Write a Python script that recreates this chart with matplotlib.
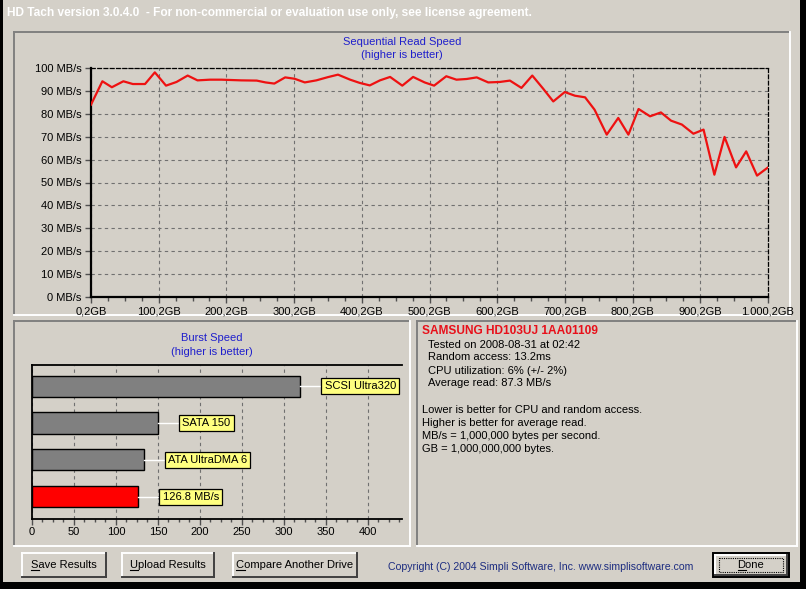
import matplotlib
matplotlib.use("Agg")
import numpy as np
from matplotlib import pyplot as plt
from matplotlib.patches import Rectangle
from matplotlib.colors import LinearSegmentedColormap

plt.rcParams['font.family'] = ['Liberation Sans', 'DejaVu Sans']
plt.rcParams['font.size'] = 8

W, H = 806, 589
FACE = '#d4d0c8'

# sequential read, GB position vs MB/s
read_gb = [0.2, 17, 31, 48, 62, 80, 94.5, 111, 126.5, 143, 157.5, 176, 193, 222,
           245, 258, 271, 287, 301, 316, 333, 350, 365, 383, 397, 412, 427, 442,
           460, 476, 493, 507, 525, 540, 555, 570, 587, 604, 619, 636, 652, 668,
           683, 700, 715, 730, 744, 762, 779, 794, 809, 826, 842, 857, 873, 890,
           905, 921, 936, 953, 968, 984, 1000.2]
read_mbs = [84.0, 94.2, 91.6, 94.2, 93.0, 93.0, 98.1, 92.3, 93.9, 96.7, 94.6, 94.9,
            94.9, 94.6, 94.5, 93.7, 93.2, 95.9, 95.3, 93.7, 94.6, 96.0, 97.1, 94.9,
            93.5, 92.4, 94.6, 96.1, 92.3, 96.1, 93.7, 92.3, 96.4, 94.9, 95.2, 95.9,
            93.7, 93.9, 94.5, 91.3, 96.7, 91.0, 85.4, 89.5, 87.9, 87.2, 81.8, 70.9,
            78.2, 70.9, 82.1, 78.9, 80.6, 77.0, 75.3, 71.3, 73.1, 53.4, 69.9, 56.6,
            63.6, 53.0, 56.6]
read_yticks = [0, 10, 20, 30, 40, 50, 60, 70, 80, 90, 100]
read_xticks = [0.2, 100.2, 200.2, 300.2, 400.2, 500.2, 600.2, 700.2, 800.2, 900.2, 1000.2]
read_xlabels = ["0,2GB", "100,2GB", "200,2GB", "300,2GB", "400,2GB", "500,2GB",
                "600,2GB", "700,2GB", "800,2GB", "900,2GB", "1.000,2GB"]

# burst speed
burst_names = ["SCSI Ultra320", "SATA 150", "ATA UltraDMA 6", "126.8 MB/s"]
burst_values = [320, 150, 133, 126.8]
burst_colors = ["#808080", "#808080", "#808080", "#ff0000"]
burst_xticks = [0, 50, 100, 150, 200, 250, 300, 350, 400]

info_title = "SAMSUNG HD103UJ 1AA01109"
info_lines = ["Tested on 2008-08-31 at 02:42", "Random access: 13.2ms",
              "CPU utilization: 6% (+/- 2%)", "Average read: 87.3 MB/s"]
note_lines = ["Lower is better for CPU and random access.",
              "Higher is better for average read.",
              "MB/s = 1,000,000 bytes per second.",
              "GB = 1,000,000,000 bytes."]
buttons = [("Save Results", 22, 106), ("Upload Results", 122, 214),
           ("Compare Another Drive", 233, 357)]


def px_axes(left, top, right, bottom):
    return fig.add_axes([left / W, 1 - bottom / H, (right - left) / W, (bottom - top) / H])


def sunken(x0, y0, x1, y1):
    bg.plot([x0, x1], [y0, y0], color='#808080', lw=1.4)
    bg.plot([x0, x0], [y0, y1], color='#808080', lw=1.4)
    bg.plot([x0, x1], [y1, y1], color='white', lw=1.4)
    bg.plot([x1, x1], [y0, y1], color='white', lw=1.4)


def raised(x0, y0, x1, y1):
    bg.plot([x0, x1], [y0, y0], color='white', lw=1.4)
    bg.plot([x0, x0], [y0, y1], color='white', lw=1.4)
    bg.plot([x0, x1], [y1, y1], color='#404040', lw=1.4)
    bg.plot([x1, x1], [y0, y1], color='#404040', lw=1.4)


fig = plt.figure(figsize=(W / 100, H / 100), dpi=100, facecolor='black')

# window background, frames, texts
bg = fig.add_axes([0, 0, 1, 1])
bg.axis('off')
bg.add_patch(Rectangle((3, 0), 797, 582, facecolor=FACE, edgecolor='none'))
title_cmap = LinearSegmentedColormap.from_list('title', ['#0a246a', '#a6caf0'])
bg.imshow(np.linspace(0, 1, 256)[None, :], cmap=title_cmap, extent=(4, 797, 22, 4),
          aspect='auto', interpolation='bilinear')
bg.text(7, 13, "HD Tach version 3.0.4.0  - For non-commercial or evaluation use only, see license agreement.",
        color='white', fontsize=8.6, fontweight='bold', va='center', ha='left')

sunken(14, 32, 790, 315)
sunken(14, 321, 410, 546)
sunken(417, 321, 797, 546)

bg.text(402, 42, "Sequential Read Speed", color='#1f1fcc', ha='center', va='center')
bg.text(402, 55, "(higher is better)", color='#1f1fcc', ha='center', va='center')
bg.text(212, 338, "Burst Speed", color='#1f1fcc', ha='center', va='center')
bg.text(212, 352, "(higher is better)", color='#1f1fcc', ha='center', va='center')

bg.text(422, 331, info_title, color='#e8101a', fontsize=8.6, fontweight='bold',
        ha='left', va='center')
for i, line in enumerate(info_lines):
    bg.text(428, 344.5 + i * 13, line, ha='left', va='center')
for i, line in enumerate(note_lines):
    bg.text(422, 410 + i * 13, line, ha='left', va='center')

button_texts = []
for label, x0, x1 in buttons:
    raised(x0, 553, x1, 577)
    button_texts.append(bg.text((x0 + x1) / 2, 565, label, ha='center', va='center'))
bg.add_patch(Rectangle((713, 553), 76, 24, facecolor='none', edgecolor='black', lw=1.4))
raised(715, 555, 787, 575)
bg.add_patch(Rectangle((719, 558), 64, 14, facecolor='none', edgecolor='black',
                       lw=0.8, linestyle=(0, (1, 1))))
button_texts.append(bg.text(751, 565, "Done", ha='center', va='center'))
bg.text(541, 567, "Copyright (C) 2004 Simpli Software, Inc. www.simplisoftware.com",
        color='#1c2c80', fontsize=7.6, ha='center', va='center')
bg.set_xlim(0, W)
bg.set_ylim(H, 0)

# sequential read chart
ax = px_axes(91, 68, 768, 297)
ax.set_facecolor('none')
ax.plot(read_gb, read_mbs, color='#ee1111', lw=1.6, zorder=3)
ax.set_xlim(0.2, 1000.2)
ax.set_ylim(0, 100)
ax.set_yticks(read_yticks)
ax.set_yticklabels([f"{v} MB/s" for v in read_yticks])
ax.set_xticks(read_xticks)
ax.set_xticklabels(read_xlabels)
ax.set_xticks(np.arange(25.2, 1000, 25), minor=True)
ax.grid(True, color='#707070', lw=0.8, linestyle=(0, (3, 3)))
ax.tick_params(length=4, width=1, color='#505050', pad=3)
ax.tick_params(axis='x', which='minor', length=3, width=1, color='#505050')
for side in ('left', 'bottom'):
    ax.spines[side].set_linewidth(1.6)
for side in ('top', 'right'):
    ax.spines[side].set_linewidth(0.9)
    ax.spines[side].set_linestyle((0, (3, 2)))

# burst speed chart
bx = px_axes(32, 365, 402, 519)
bx.set_facecolor('none')
ypos = np.arange(len(burst_values))
bx.barh(ypos, burst_values, height=0.57, color=burst_colors, edgecolor='black', lw=1, zorder=3)
for y, v, name in zip(ypos, burst_values, burst_names):
    bx.plot([v, v + 24], [y, y], color='white', lw=1, zorder=3)
    bx.text(v + 29, y, name, ha='left', va='center', zorder=4,
            bbox=dict(boxstyle='square,pad=0.3', facecolor='#ffff80', edgecolor='black', lw=0.9))
bx.set_xlim(0, 441)
bx.set_ylim(3.6, -0.57)
bx.set_yticks([])
bx.set_xticks(burst_xticks)
bx.set_xticks(np.arange(12.5, 441, 12.5), minor=True)
bx.grid(True, axis='x', color='#707070', lw=0.8, linestyle=(0, (3, 3)))
bx.tick_params(axis='x', length=4, width=1, color='#505050', pad=2)
bx.tick_params(axis='x', which='minor', length=2.5, width=1, color='#505050')
bx.spines['right'].set_visible(False)
for side in ('left', 'bottom', 'top'):
    bx.spines[side].set_linewidth(1.3)

# underline the first letter of each button caption (keyboard mnemonic)
fig.canvas.draw()
renderer = fig.canvas.get_renderer()
for t in button_texts:
    ext = t.get_window_extent(renderer)
    w, _, _ = renderer.get_text_width_height_descent(t.get_text()[0], t.get_fontproperties(), ismath=False)
    x0 = ext.x0
    bg.plot([x0, x0 + w], [H - ext.y0 - 0.5] * 2, color='black', lw=0.8)

fig.savefig('out.png', dpi=100, facecolor='black')
